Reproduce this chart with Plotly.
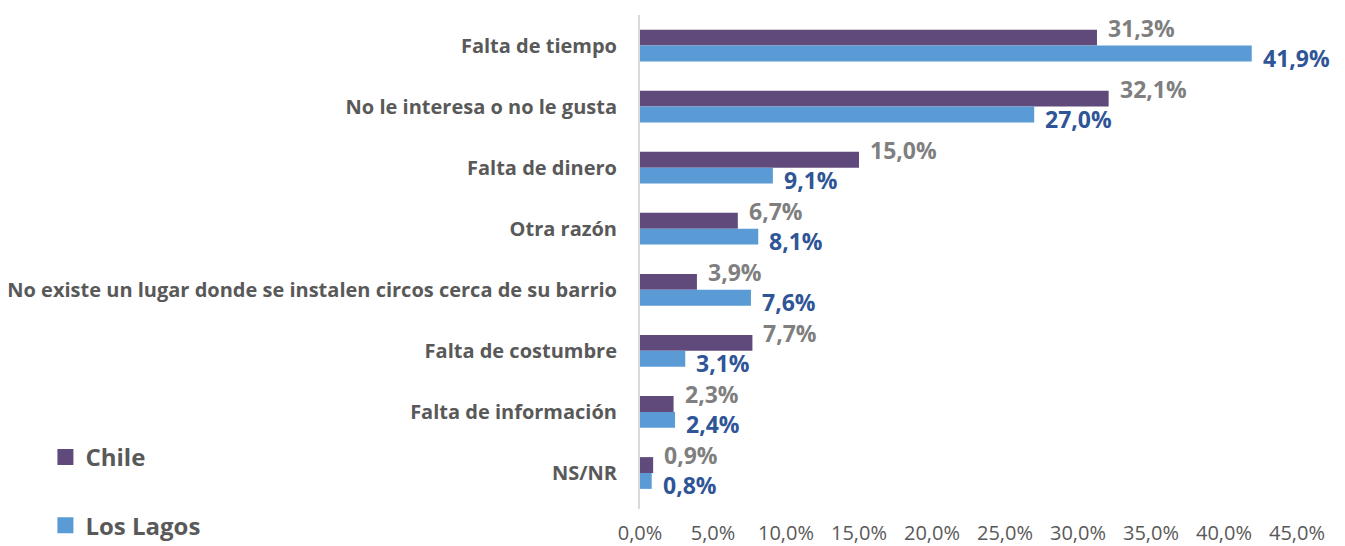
import plotly.graph_objects as go

categories = [
    "Falta de tiempo",
    "No le interesa o no le gusta",
    "Falta de dinero",
    "Otra razón",
    "No existe un lugar donde se instalen circos cerca de su barrio",
    "Falta de costumbre",
    "Falta de información",
    "NS/NR",
]
chile = [31.3, 32.1, 15.0, 6.7, 3.9, 7.7, 2.3, 0.9]
los_lagos = [41.9, 27.0, 9.1, 8.1, 7.6, 3.1, 2.4, 0.8]
tick_vals = [0, 5, 10, 15, 20, 25, 30, 35, 40, 45]
tick_text = ["0,0%", "5,0%", "10,0%", "15,0%", "20,0%", "25,0%", "30,0%", "35,0%", "40,0%", "45,0%"]

FONT = "Open Sans"
C_CHILE = "#604a7b"
C_LAGOS = "#5b9bd5"

def fmt(v):
    return f"{v:.1f}".replace(".", ",") + "%"

fig = go.Figure()
fig.add_trace(go.Bar(y=categories, x=chile, orientation="h", name="Chile", showlegend=False,
                     marker=dict(color=C_CHILE, line=dict(width=0))))
fig.add_trace(go.Bar(y=categories, x=los_lagos, orientation="h", name="Los Lagos", showlegend=False,
                     marker=dict(color=C_LAGOS, line=dict(width=0))))
# legend entries with larger square swatches
fig.add_trace(go.Scatter(x=[None], y=[None], mode="markers", name="Chile", legendgroup="a",
                         marker=dict(symbol="square", size=16, color=C_CHILE)))
fig.add_trace(go.Scatter(x=[None], y=[None], mode="markers", name="Los Lagos", legendgroup="b",
                         marker=dict(symbol="square", size=16, color=C_LAGOS)))

annotations = []
for c, v in zip(categories, chile):
    annotations.append(dict(x=v, y=c, xref="x", yref="y", text=fmt(v), showarrow=False,
                            xanchor="left", yanchor="middle", xshift=9, yshift=18,
                            font=dict(family=FONT, size=23, color="#7f7f7f", weight="bold")))
for c, v in zip(categories, los_lagos):
    annotations.append(dict(x=v, y=c, xref="x", yref="y", text=fmt(v), showarrow=False,
                            xanchor="left", yanchor="middle", xshift=9, yshift=-12,
                            font=dict(family=FONT, size=23, color="#2f5597", weight="bold")))

fig.update_layout(
    width=1345, height=546,
    margin=dict(l=640, r=48, t=15, b=37, autoexpand=False),
    paper_bgcolor="white", plot_bgcolor="white",
    barmode="group", bargap=0.48, bargroupgap=0,
    font=dict(family=FONT, color="#595959"),
    annotations=annotations,
    showlegend=True,
    legend=dict(x=-0.905, xanchor="left", y=0.15, yanchor="top",
                font=dict(family=FONT, size=24, color="#595959", weight="bold"),
                tracegroupgap=34, itemwidth=30, bgcolor="rgba(0,0,0,0)"),
    xaxis=dict(range=[0, 45], tickvals=tick_vals, ticktext=tick_text, showgrid=False,
               zeroline=False, showline=False, ticks="", ticklabelstandoff=10, automargin=False,
               tickfont=dict(family=FONT, size=20, color="#595959")),
    yaxis=dict(autorange="reversed", showline=True, linecolor="#d9d9d9", linewidth=2,
               ticks="", showgrid=False, ticklabelstandoff=17, automargin=False,
               tickfont=dict(family=FONT, size=20, color="#595959", weight="bold")),
)

fig.write_html("out.html", config={"displayModeBar": False},
               post_script="document.body.style.margin='0';")
